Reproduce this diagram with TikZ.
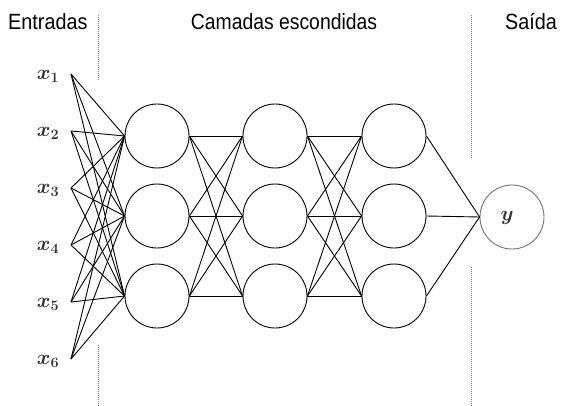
\documentclass[tikz,border=0pt]{standalone}
\usepackage{bm}
\usepackage{fontspec}
\setmainfont{Liberation Sans}
\begin{document}
\begin{tikzpicture}[x=1pt,y=-1pt,
  neuron/.style={circle,draw=black,line width=0.9pt,minimum size=64pt,inner sep=0pt},
  outneuron/.style={circle,draw=black!55,line width=0.9pt,minimum size=64pt,inner sep=0pt},
  conn/.style={draw=black,line width=0.9pt},
  sep/.style={draw=black!50,line width=0.8pt,dash pattern=on 1pt off 1pt},
  title/.style={font=\fontsize{22}{24}\selectfont,inner sep=0pt},
  inlabel/.style={font=\fontsize{22}{24}\selectfont,text=black!80,inner sep=0pt}]
\useasboundingbox (0,0) rectangle (564,406);
% titles
\node[title,anchor=west] (tin) at (8,22) {\scalebox{0.9}[1]{Entradas}};
\node[title] (thid) at (284,22) {\scalebox{0.88}[1]{Camadas escondidas}};
\node[title] (tout) at (531,22) {\scalebox{0.9}[1]{Saída}};
% separators
\draw[sep] (98,15) -- (98,80);
\draw[sep] (98,345) -- (98,406);
\draw[sep] (471,15) -- (471,158);
\draw[sep] (471,267) -- (471,406);
% inputs
\foreach \i/\yy in {1/74,2/131,3/188,4/245,5/302,6/359}{
  \coordinate (x\i) at (71,\yy);
  \node[inlabel] (lx\i) at (48,\yy+2) {$\bm{x}_{\bm{\i}}$};
}
% hidden layers
\foreach \l/\xx in {1/157,2/275,3/394}{
  \foreach \j/\yy in {1/136,2/216,3/296}{
    \node[neuron] (h\l\j) at (\xx,\yy) {};
  }
}
\node[outneuron] (out) at (512,217) {};
\node[inlabel] (ly) at (507,218) {$\bm{y}$};
% connections
\foreach \i in {1,...,6}{
  \foreach \j in {1,2,3}{
    \draw[conn] (x\i) -- (h1\j.west);
  }
}
\foreach \a/\b in {1/2,2/3}{
  \foreach \j in {1,2,3}{
    \foreach \k in {1,2,3}{
      \draw[conn] (h\a\j.east) -- (h\b\k.west);
    }
  }
}
\foreach \j in {1,2,3}{
  \draw[conn] (h3\j.east) -- (out.west);
}
\end{tikzpicture}
\end{document}
